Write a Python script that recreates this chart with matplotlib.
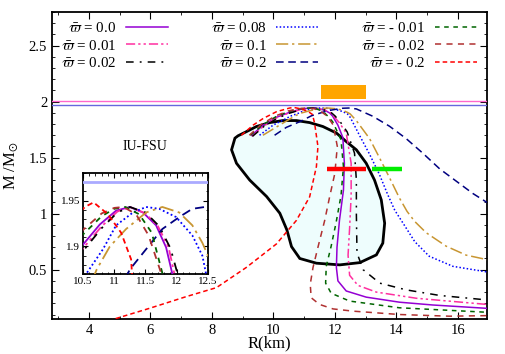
"""Mass-radius curves for IU-FSU with different varpi couplings, with inset near Mmax."""

import matplotlib
matplotlib.use("Agg")
import matplotlib.pyplot as plt
from matplotlib.ticker import MultipleLocator, FuncFormatter

plt.rcParams["font.family"] = ["Liberation Serif", "DejaVu Serif"]
plt.rcParams["mathtext.fontset"] = "stix"
plt.rcParams["font.size"] = 10

# ── curve data (R in km, M in solar masses) ──
LABELS = ["0.0", "0.01", "0.02", "0.08", "0.1", "0.2", "- 0.01", "- 0.02", "- 0.2"]

R_W000 = [9.29, 9.67, 10.1, 10.5, 10.77, 11.03, 11.25, 11.46, 11.67, 11.83, 11.93, 12.1, 12.26,
          12.31, 12.28, 12.15, 12.07, 12.05, 12.1, 12.37, 13.02, 14.1, 15.18, 16.95]
M_W000 = [1.70, 1.79, 1.86, 1.902, 1.924, 1.939, 1.943, 1.937, 1.923, 1.899, 1.87, 1.79, 1.68,
          1.45, 1.21, 0.94, 0.70, 0.52, 0.40, 0.31, 0.255, 0.21, 0.185, 0.155]

R_W001 = [9.3, 9.68, 10.1, 10.5, 10.8, 11.05, 11.25, 11.5, 11.7, 11.87, 11.96, 12.15, 12.37,
          12.53, 12.53, 12.48, 12.43, 12.48, 12.75, 13.35, 14.65, 16.95]
M_W001 = [1.69, 1.78, 1.855, 1.898, 1.922, 1.938, 1.943, 1.936, 1.922, 1.899, 1.871, 1.81, 1.72,
          1.45, 1.16, 0.87, 0.63, 0.45, 0.36, 0.30, 0.245, 0.19]

R_W002 = [9.32, 9.7, 10.12, 10.5, 10.8, 11.05, 11.25, 11.5, 11.72, 11.9, 12.01, 12.2, 12.4,
          12.64, 12.7, 12.7, 12.72, 12.92, 13.46, 14.32, 15.41, 16.95]
M_W002 = [1.69, 1.78, 1.85, 1.895, 1.92, 1.937, 1.943, 1.937, 1.922, 1.898, 1.871, 1.81, 1.73,
          1.54, 1.30, 1.0, 0.65, 0.50, 0.38, 0.32, 0.27, 0.23]

R_W008 = [9.55, 9.99, 10.42, 10.56, 10.82, 11.03, 11.3, 11.51, 11.72, 11.99, 12.25, 12.41, 12.5,
          12.8, 13.13, 13.45, 13.72, 13.95, 14.3, 14.6, 15.07, 15.84, 16.95]
M_W008 = [1.70, 1.79, 1.85, 1.871, 1.897, 1.923, 1.937, 1.943, 1.941, 1.932, 1.912, 1.89, 1.86,
          1.70, 1.53, 1.35, 1.17, 1.03, 0.88, 0.75, 0.62, 0.53, 0.48]

R_W010 = [9.66, 10.2, 10.72, 10.93, 11.19, 11.51, 11.77, 12.04, 12.25, 12.41, 12.5, 12.7, 13.13,
          13.45, 13.78, 14.1, 14.35, 14.6, 14.97, 15.62, 16.27, 16.95]
M_W010 = [1.70, 1.79, 1.875, 1.90, 1.919, 1.937, 1.943, 1.937, 1.923, 1.904, 1.89, 1.83, 1.67,
          1.50, 1.32, 1.14, 1.02, 0.93, 0.83, 0.71, 0.63, 0.59]

R_W020 = [10.04, 10.42, 10.85, 11.25, 11.51, 11.77, 12.04, 12.25, 12.45, 12.7, 13.23, 13.78,
          14.32, 14.86, 15.41, 15.95, 16.49, 16.95]
M_W020 = [1.70, 1.77, 1.82, 1.875, 1.897, 1.919, 1.932, 1.941, 1.943, 1.935, 1.87, 1.78,
          1.67, 1.54, 1.40, 1.29, 1.18, 1.10]

R_WM001 = [9.25, 9.64, 10.08, 10.5, 10.8, 11.0, 11.18, 11.4, 11.6, 11.77, 11.93, 12.2, 12.28,
           12.2, 12.04, 11.88, 11.72, 11.7, 11.88, 12.48, 14.1, 16.95]
M_WM001 = [1.70, 1.79, 1.865, 1.913, 1.933, 1.941, 1.943, 1.935, 1.915, 1.871, 1.82, 1.66, 1.42,
           1.16, 0.92, 0.71, 0.53, 0.38, 0.29, 0.22, 0.16, 0.12]

R_WM002 = [9.22, 9.6, 10.05, 10.5, 10.8, 11.0, 11.15, 11.35, 11.55, 11.75, 11.95, 12.08, 12.0,
           11.83, 11.67, 11.45, 11.29, 11.2, 11.23, 11.5, 11.94, 12.59, 14.1, 15.72, 16.95]
M_WM002 = [1.70, 1.795, 1.87, 1.918, 1.936, 1.942, 1.943, 1.935, 1.912, 1.871, 1.79, 1.60, 1.36,
           1.15, 0.94, 0.70, 0.52, 0.37, 0.25, 0.19, 0.15, 0.13, 0.10, 0.085, 0.09]

R_WM02 = [8.96, 9.34, 9.67, 10.1, 10.53, 10.67, 10.9, 11.11, 11.27, 11.34, 11.45, 11.4, 11.18,
          10.75, 10.1, 9.12, 8.15, 7.17, 5.98, 4.9, 4.6]
M_WM02 = [1.70, 1.79, 1.85, 1.91, 1.943, 1.948, 1.935, 1.915, 1.886, 1.81, 1.60, 1.42, 1.15,
          0.94, 0.73, 0.52, 0.34, 0.26, 0.156, 0.066, 0.04]

CURVES_R = [R_W000, R_W001, R_W002, R_W008, R_W010, R_W020, R_WM001, R_WM002, R_WM02]
CURVES_M = [M_W000, M_W001, M_W002, M_W008, M_W010, M_W020, M_WM001, M_WM002, M_WM02]

# observational constraints
M_J0348 = 2.01
M_J1614 = 1.97
ORANGE_R = [11.56, 13.0]
ORANGE_M = [2.02, 2.15]
RED_BAR_R = [11.75, 13.0]
GREEN_BAR_R = [13.2, 14.2]
BAR_M = 1.4

# constraint contour
R_CONTOUR = [8.75, 8.64, 8.80, 9.23, 9.78, 10.21, 10.44, 10.59, 10.86, 11.40, 12.16, 12.81, 13.35,
             13.56, 13.62, 13.51, 13.29, 13.02, 12.70, 12.37, 12.05, 11.61, 11.18, 10.75, 10.31,
             9.88, 9.45, 9.13, 8.85]
M_CONTOUR = [1.674, 1.57, 1.45, 1.30, 1.153, 1.004, 0.855, 0.706, 0.60, 0.558, 0.543, 0.563,
             0.632, 0.737, 0.915, 1.123, 1.30, 1.45, 1.57, 1.644, 1.72, 1.778, 1.813, 1.831,
             1.831, 1.813, 1.778, 1.733, 1.695]

COLORS = ["#9400d3", "#ff2fa0", "black", "#0000ff", "#c89632", "#000080", "#006400", "#b03030", "#ff0000"]
DASHES = [None, (6, 2, 1.5, 2, 1.5, 2), (5, 4, 1.2, 4), (1, 1.4), (8, 2.5, 1.5, 2.5),
          (5, 3), (3, 3), (4, 3.5), (3, 2)]


def style_ticks(ax, major_len, minor_len):
    ax.tick_params(which="both", direction="in", top=True, right=True)
    ax.tick_params(which="major", length=major_len, width=0.8)
    ax.tick_params(which="minor", length=minor_len, width=0.6)
    for s in ax.spines.values():
        s.set_linewidth(1.3)


def draw_curves(ax, lw, with_labels):
    for i, (r, m) in enumerate(zip(CURVES_R, CURVES_M)):
        label = r"$\bar{\varpi}$ = " + LABELS[i] if with_labels else None
        line, = ax.plot(r, m, color=COLORS[i], lw=lw, label=label, zorder=4)
        if DASHES[i] is not None:
            line.set_dashes(DASHES[i])


fig = plt.figure(figsize=(5.06, 3.54), dpi=100)
ax = fig.add_axes([0.1028, 0.0989, 0.8597, 0.8672])

ax.fill(R_CONTOUR, M_CONTOUR, facecolor="#eefdfd", edgecolor="black", lw=2.0, zorder=2)
ax.axhline(M_J0348, color="#ff66cc", lw=1.0, zorder=3)
ax.axhline(M_J1614, color="#6666dd", lw=1.0, zorder=3)
ax.fill_between(ORANGE_R, ORANGE_M[0], ORANGE_M[1], color="#ffa500", lw=0, zorder=3)
ax.plot(RED_BAR_R, [BAR_M, BAR_M], color="#ff0000", lw=3.2, solid_capstyle="butt", zorder=5)
ax.plot(GREEN_BAR_R, [BAR_M, BAR_M], color="#00ee00", lw=3.2, solid_capstyle="butt", zorder=5)

draw_curves(ax, 1.1, True)

ax.set_xlim(2.8, 16.95)
ax.set_ylim(0.06, 2.8)
ax.xaxis.set_major_locator(MultipleLocator(2))
ax.xaxis.set_minor_locator(MultipleLocator(1))
ax.yaxis.set_major_locator(MultipleLocator(0.5))
ax.yaxis.set_minor_locator(MultipleLocator(0.1))
fmt = FuncFormatter(lambda v, p: f"{v:g}")
ax.xaxis.set_major_formatter(fmt)
ax.yaxis.set_major_formatter(fmt)
ax.tick_params(labelsize=10.5)
style_ticks(ax, 5, 2.5)
ax.set_xlabel("R(km)", fontsize=12, labelpad=-1)
ax.set_ylabel(r"M /M$_{\odot}$", fontsize=12, labelpad=6)

ax.text(5.1, 1.60, "IU-FSU", fontsize=10, ha="left", va="center")

leg = ax.legend(loc="upper left", bbox_to_anchor=(0.014, 0.979), ncol=3, frameon=False,
                markerfirst=False, fontsize=10.8, handlelength=2.8, handletextpad=0.65,
                columnspacing=2.85, labelspacing=0.22, borderpad=0.2, borderaxespad=0.0)

# ── inset near the maximum mass ──
ins = fig.add_axes([0.164, 0.226, 0.247, 0.2853])
ins.axhline(M_J1614, color="#aaaaff", lw=2.0, zorder=3)
draw_curves(ins, 1.3, False)
ins.set_xlim(10.5, 12.5)
ins.set_ylim(1.87, 1.98)
ins.xaxis.set_major_locator(MultipleLocator(0.5))
ins.xaxis.set_minor_locator(MultipleLocator(0.1))
ins.yaxis.set_major_locator(MultipleLocator(0.05))
ins.yaxis.set_minor_locator(MultipleLocator(0.01))
ins.xaxis.set_major_formatter(fmt)
ins.yaxis.set_major_formatter(fmt)
ins.tick_params(labelsize=8, pad=2)
style_ticks(ins, 3.5, 1.8)

fig.savefig("out.png", dpi=100)
